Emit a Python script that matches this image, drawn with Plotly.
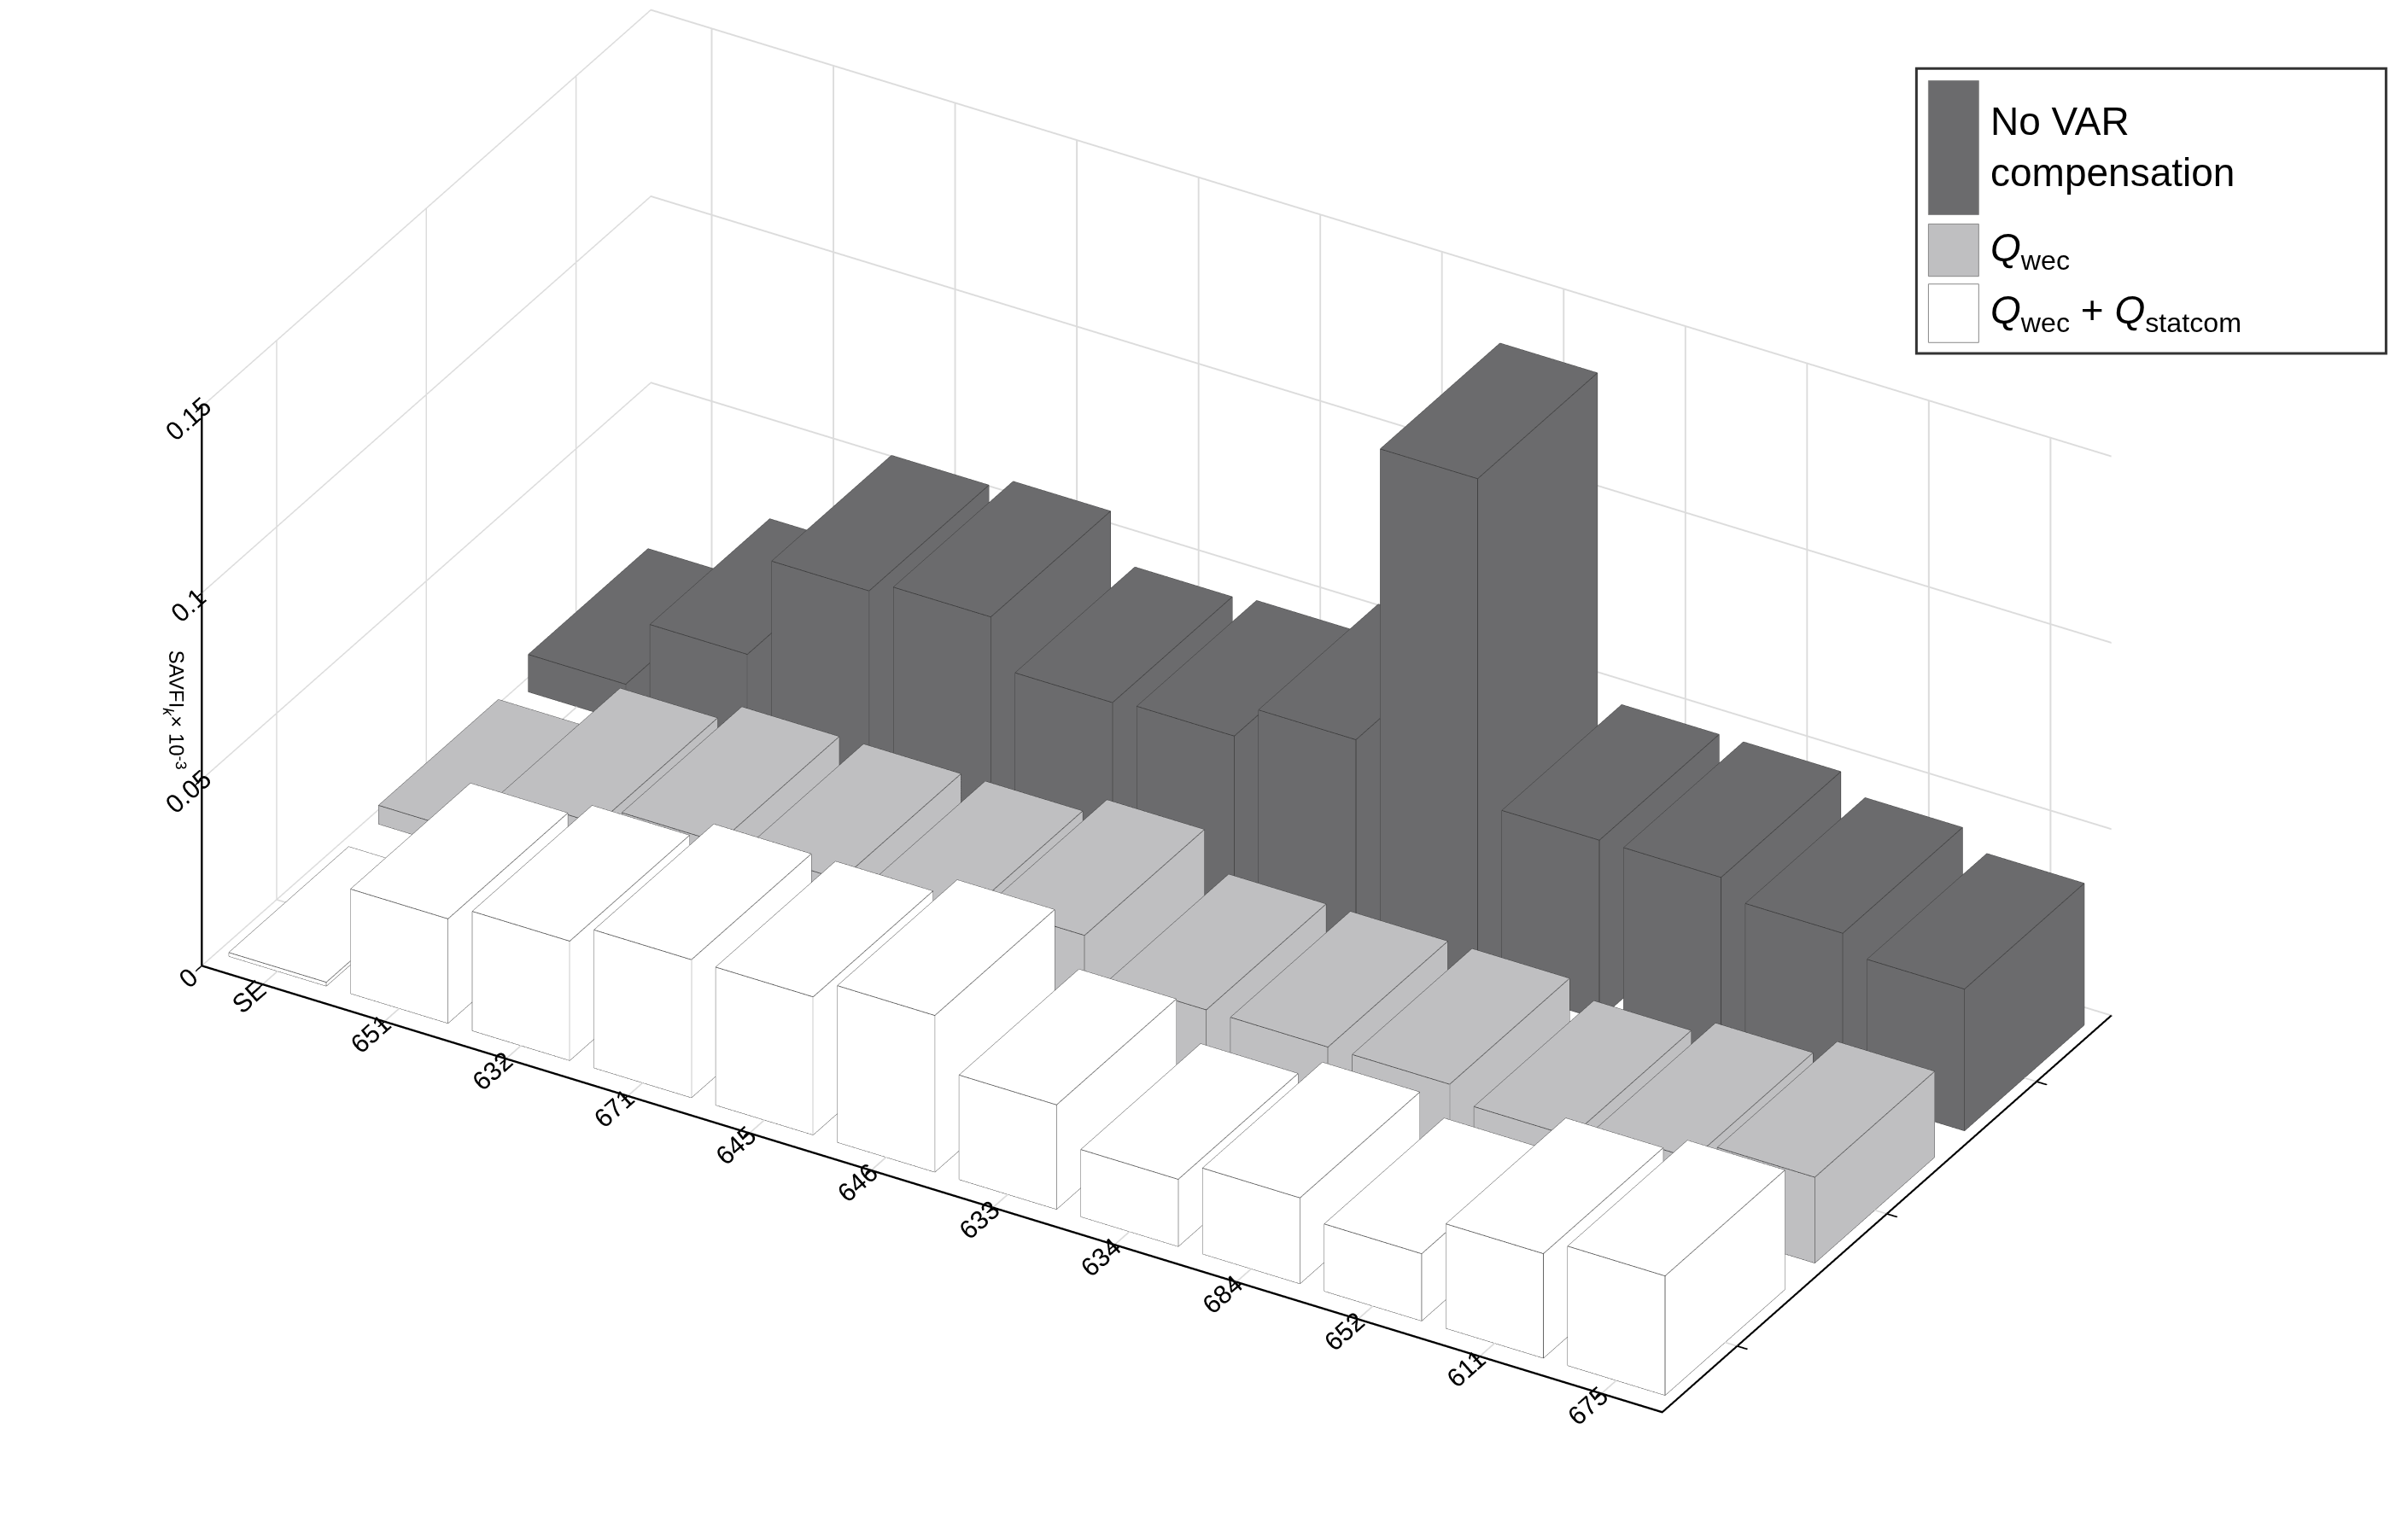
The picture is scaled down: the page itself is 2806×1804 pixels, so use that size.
import plotly.graph_objects as go

buses = ["SE","651","632","671","645","646","633","634","684","652","611","675"]
no_var = [0.010,0.028,0.055,0.058,0.045,0.046,0.055,0.135,0.048,0.048,0.043,0.038]
q_wec = [0.005,0.018,0.023,0.023,0.023,0.028,0.018,0.018,0.018,0.014,0.018,0.023]
q_wec_statcom = [0.001,0.028,0.032,0.037,0.037,0.042,0.028,0.018,0.023,0.018,0.028,0.032]
series_names = ["No VAR<br>compensation","<i>Q</i><sub>wec</sub>","<i>Q</i><sub>wec</sub> + <i>Q</i><sub>statcom</sub>"]
series_vals = [q_wec_statcom, q_wec, no_var]   # front -> back
series_cols = ["#ffffff", "#bfbfc1", "#6b6b6d"]

w = 0.4
fig = go.Figure()
ex, ey, ez = [], [], []
for j, (vals, col) in enumerate(zip(series_vals, series_cols)):
    X, Y, Z, I, J, K = [], [], [], [], [], []
    for i, v in enumerate(vals):
        xc, yc = i + 1, j + 1
        base = len(X)
        xs = [xc-w, xc+w]; ys = [yc-w, yc+w]
        for zz in (0, v):
            for yy in ys:
                for xx in xs:
                    X.append(xx); Y.append(yy); Z.append(zz)
        tris = [(0,1,3),(0,3,2),(4,5,7),(4,7,6),(0,1,5),(0,5,4),
                (2,3,7),(2,7,6),(0,2,6),(0,6,4),(1,3,7),(1,7,5)]
        for a,b,c in tris:
            I.append(base+a); J.append(base+b); K.append(base+c)
        P = [(X[base+k], Y[base+k], Z[base+k]) for k in range(8)]
        for a,b in [(0,1),(1,3),(3,2),(2,0),(4,5),(5,7),(7,6),(6,4),(0,4),(1,5),(2,6),(3,7)]:
            ex += [P[a][0], P[b][0], None]; ey += [P[a][1], P[b][1], None]; ez += [P[a][2], P[b][2], None]
    fig.add_trace(go.Mesh3d(x=X, y=Y, z=Z, i=I, j=J, k=K, color=col, flatshading=True,
                            lighting=dict(ambient=1, diffuse=0, specular=0), showlegend=False, hoverinfo="skip"))
fig.add_trace(go.Scatter3d(x=ex, y=ey, z=ez, mode="lines", line=dict(color="#333333", width=1.5),
                           showlegend=False, hoverinfo="skip"))

ax = dict(showbackground=False, gridcolor="#dcdcdc", gridwidth=4, showline=True, linecolor="black",
          linewidth=5, ticks="outside", tickcolor="black", ticklen=14, tickwidth=4,
          tickfont=dict(family="Liberation Sans", size=19, color="black"), zeroline=False)
fig.update_layout(
    width=2806, height=1804, paper_bgcolor="white", margin=dict(l=0, r=0, t=0, b=0),
    scene=dict(
        domain=dict(x=[0.06, 0.9], y=[0.0, 1.0]),
        xaxis=dict(ax, tickvals=list(range(1,13)), ticktext=buses, title="", range=[0.5,12.5]),
        yaxis=dict(ax, tickvals=[1,2,3], ticktext=["","",""], title="", range=[0.5,3.5]),
        zaxis=dict(ax, tickvals=[0,0.05,0.1,0.15], ticktext=["0","0.05","0.1","0.15"], range=[0,0.15],
                   title=dict(text="SAVFI<sub><i>k</i></sub>× 10<sup>-3</sup>",
                              font=dict(family="Liberation Sans", size=24, color="black"))),
        aspectmode="manual", aspectratio=dict(x=2.2, y=1.15, z=0.85),
        camera=dict(eye=dict(x=1.0, y=-1.7, z=1.1), center=dict(x=0, y=0, z=-0.1),
                    projection=dict(type="orthographic")),
    ),
)
fig.add_shape(type="rect", xref="paper", yref="paper", x0=0.797, y0=0.775, x1=0.993, y1=0.96,
              line=dict(color="#333333", width=3), fillcolor="white")
rows = [(0.952, 0.865, "#6b6b6d"), (0.859, 0.825, "#bfbfc1"), (0.82, 0.782, "#ffffff")]
for ya, yb, c in rows:
    fig.add_shape(type="rect", xref="paper", yref="paper", x0=0.802, x1=0.823, y0=yb, y1=ya,
                  line=dict(color="#888888", width=1), fillcolor=c)
for ty, name in zip([0.909, 0.842, 0.801], series_names):
    fig.add_annotation(xref="paper", yref="paper", x=0.827, y=ty, text=name, showarrow=False,
                       xanchor="left", yanchor="middle", align="left",
                       font=dict(family="Liberation Sans", size=46, color="black"))
fig.write_html("out.html")
